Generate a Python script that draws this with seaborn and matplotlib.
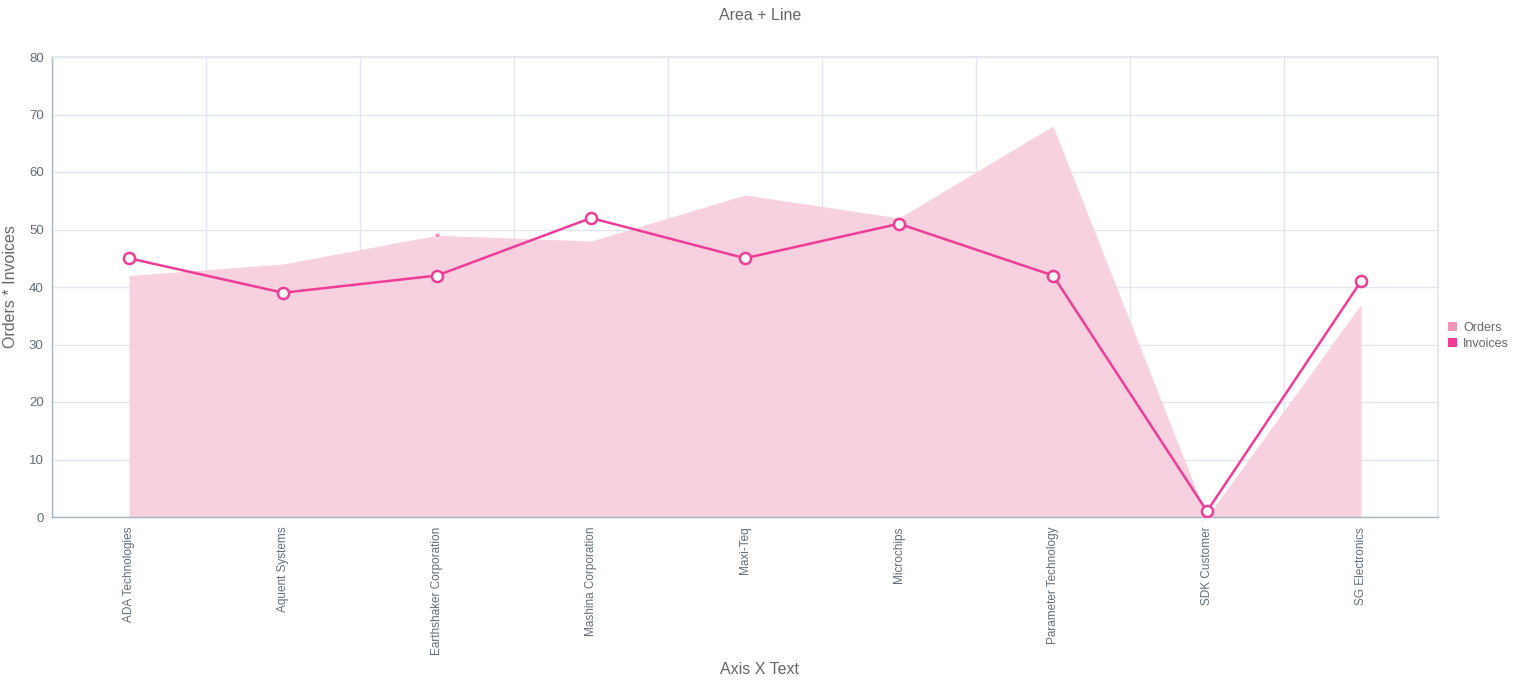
import matplotlib
matplotlib.use("Agg")
import matplotlib.pyplot as plt
import seaborn as sns
import pandas as pd
import numpy as np
from matplotlib.patches import Patch
from matplotlib.ticker import FixedLocator

categories = ["ADA Technologies", "Aquent Systems", "Earthshaker Corporation",
              "Mashina Corporation", "Maxi-Teq", "Microchips",
              "Parameter Technology", "SDK Customer", "SG Electronics"]
orders = [42, 44, 49, 48, 56, 52, 68, 0, 37]
invoices = [45, 39, 42, 52, 45, 51, 42, 1, 41]
y_ticks = [0, 10, 20, 30, 40, 50, 60, 70, 80]

sns.set_theme(style="white")
plt.rcParams['font.family'] = ['Liberation Sans', 'DejaVu Sans']

area_color = "#f8d1e0"
line_color = "#ef3c97"
orders_legend = "#f394b8"
text_color = "#666666"
tick_color = "#626c78"
grid_color = "#e3e6ec"
axis_color = "#a9b4c0"

fig = plt.figure(figsize=(15.28, 6.92), dpi=100)
ax = fig.add_axes([52/1528, (692-517)/692, (1438-52)/1528, (517-57)/692])

df = pd.DataFrame({"category": categories, "Orders": orders, "Invoices": invoices})
df["x"] = np.arange(len(categories))

ax.fill_between(df["x"], 0, df["Orders"], color=area_color, linewidth=0, zorder=1)
sns.lineplot(data=df, x="x", y="Invoices", ax=ax, color=line_color, linewidth=1.8,
             marker="o", markersize=8, markerfacecolor="white",
             markeredgecolor=line_color, markeredgewidth=1.8, zorder=3)
# small highlighted orders point
ax.scatter([df["x"][2]], [df["Orders"][2]], s=14, color=orders_legend,
           edgecolor="white", linewidth=0.6, zorder=2)

ax.set_xlim(-0.5, len(categories) - 0.5)
ax.set_ylim(0, 80)
ax.set_yticks(y_ticks)
ax.set_xticks(df["x"])
ax.set_xticklabels(categories, rotation=90, fontsize=8.5, color=tick_color)
ax.xaxis.set_minor_locator(FixedLocator(np.arange(-0.5, len(categories), 1.0)))
ax.tick_params(axis="x", which="major", length=0, pad=7)
ax.tick_params(axis="x", which="minor", length=5, color=axis_color, width=1)
ax.tick_params(axis="y", which="major", length=4, color=axis_color, width=1,
               labelsize=9.5, labelcolor=tick_color, pad=2)

ax.grid(True, axis="y", which="major", color=grid_color, linewidth=1, zorder=0)
ax.grid(True, axis="x", which="minor", color=grid_color, linewidth=1, zorder=0)
ax.set_axisbelow(True)

for s in ["top", "right"]:
    ax.spines[s].set_visible(True)
    ax.spines[s].set_color(grid_color)
ax.spines["left"].set_color(axis_color)
ax.spines["bottom"].set_color(axis_color)
ax.spines["left"].set_linewidth(1)
ax.spines["bottom"].set_linewidth(1)

ax.set_xlabel("Axis X Text", fontsize=11.5, color=text_color)
ax.set_ylabel("Orders * Invoices", fontsize=11.5, color=text_color)
ax.xaxis.set_label_coords((760 - 52) / 1386, -(670 - 517) / 460)
ax.yaxis.set_label_coords((11 - 52) / 1386, 0.5)
ax.xaxis.label.set_va("center")
ax.yaxis.label.set_va("center")
fig.text(760/1528, 1 - 15/692, "Area + Line", ha="center", va="center",
         fontsize=11.5, color=text_color)

handles = [Patch(facecolor=orders_legend, edgecolor="none", label="Orders"),
           Patch(facecolor=line_color, edgecolor="none", label="Invoices")]
fig.legend(handles=handles, loc="center left", bbox_to_anchor=(1443/1528, 1 - 336/692),
           frameon=False, fontsize=9, labelcolor=text_color, handlelength=0.7,
           handleheight=0.7, handletextpad=0.5, labelspacing=0.35, borderaxespad=0)

fig.savefig("out.png", dpi=100)
